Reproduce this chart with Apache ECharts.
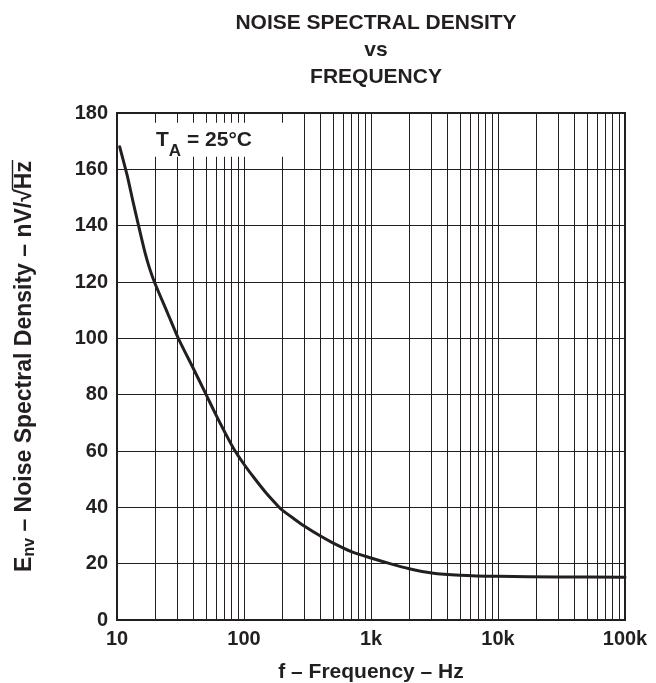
<!DOCTYPE html>
<html>
<head>
<meta charset="utf-8">
<script src="https://cdn.jsdelivr.net/npm/echarts@6/dist/echarts.min.js"></script>
<style>
html,body{margin:0;padding:0;background:#fff;}
#chart{width:656px;height:683px;}
</style>
</head>
<body>
<div id="chart"></div>
<script>
// Data
const freqHz = [10.5, 12, 13.3, 14.7, 16.6, 18, 19.7, 25, 30.4, 40, 50, 60, 70, 83, 100, 120, 150, 185, 200, 250, 300, 400, 500, 700, 1000, 1410, 2000, 3000, 5000, 10000, 30000, 100000];
const noiseNv = [168, 158, 149, 140.5, 130.5, 125, 120, 109, 100, 89.2, 80.3, 72.9, 67, 60.8, 55.3, 50.5, 45, 40.5, 39, 35.8, 33.3, 29.8, 27.4, 24.3, 22, 20, 18.2, 16.7, 15.9, 15.5, 15.3, 15.2];
const xTickLabels = {10: '10', 100: '100', 1000: '1k', 10000: '10k', 100000: '100k'};
const yTicks = [0, 20, 40, 60, 80, 100, 120, 140, 160, 180];
const titleLines = ['NOISE SPECTRAL DENSITY', 'vs', 'FREQUENCY'];
const xName = 'f – Frequency – Hz';
const yNameMain = 'E', yNameSub = 'nv', yNameRest = ' – Noise Spectral Density – nV/√', yNameUnit = 'Hz';
const minorGridFreqs = [];
[10, 100, 1000, 10000].forEach(function (d) {
  for (let m = 2; m <= 9; m++) minorGridFreqs.push(m * d);
});

const INK = '#231f20';
const FAMILY = '"Liberation Sans", Arial, sans-serif';

// text measuring for the rotated y label
const mctx = document.createElement('canvas').getContext('2d');
function tw(txt, size) { mctx.font = 'bold ' + size + 'px ' + FAMILY; return mctx.measureText(txt).width; }

const chart = echarts.init(document.getElementById('chart'));
const option = {
  backgroundColor: '#fff',
  animation: false,
  title: {
    text: titleLines.join('\n'),
    left: 371,
    top: 5,
    textAlign: 'center',
    textStyle: {fontFamily: FAMILY, fontWeight: 'bold', fontSize: 21, color: INK, lineHeight: 27}
  },
  grid: {
    left: 117, right: 31, top: 113, bottom: 63,
    outerBoundsMode: 'none',
    containLabel: false,
    show: true, borderColor: INK, borderWidth: 2
  },
  xAxis: {
    type: 'log', logBase: 10, min: 10, max: 100000,
    name: xName,
    nameLocation: 'middle', nameGap: 42,
    nameTextStyle: {fontFamily: FAMILY, fontWeight: 'bold', fontSize: 21, color: INK},
    axisLine: {show: true, lineStyle: {color: INK, width: 2}},
    axisTick: {show: false},
    axisLabel: {
      fontFamily: FAMILY, fontWeight: 'bold', fontSize: 20, color: INK, margin: 9,
      formatter: function (v) { return xTickLabels[Math.round(v)] || ''; }
    },
    splitLine: {show: true, lineStyle: {color: INK, width: 1}}
  },
  yAxis: {
    type: 'value', min: 0, max: 180, interval: 20,
    axisLine: {show: true, lineStyle: {color: INK, width: 2}},
    axisTick: {show: false},
    axisLabel: {
      fontFamily: FAMILY, fontWeight: 'bold', fontSize: 20, color: INK, margin: 9,
      formatter: function (v) { return yTicks.indexOf(v) >= 0 ? String(v) : ''; }
    },
    splitLine: {show: true, lineStyle: {color: INK, width: 1}}
  },
  series: [{
    type: 'line',
    data: freqHz.map(function (f, i) { return [f, noiseNv[i]]; }),
    showSymbol: false,
    smooth: 0.25,
    z: 10,
    lineStyle: {color: INK, width: 3, cap: 'round', join: 'round'},
    markLine: {
      silent: true,
      symbol: 'none',
      label: {show: false},
      lineStyle: {color: INK, width: 1, type: 'solid'},
      data: minorGridFreqs.map(function (f) { return {xAxis: f}; }),
      z: 1
    }
  }]
};
chart.setOption(option);

// y-axis title built as a rotated group (subscript + radical overline)
const YS = 23, YSUB = 16;
const wE = tw(yNameMain, YS), wSub = tw(yNameSub, YSUB), wRest = tw(yNameRest, YS), wUnit = tw(yNameUnit, YS);
const W = wE + wSub + wRest + wUnit;
const x0 = -W / 2;
const txtStyle = function (t, size) {
  return {text: t, font: 'bold ' + size + 'px ' + FAMILY, fill: INK, align: 'left', verticalAlign: 'middle'};
};
const yMid = chart.convertToPixel({gridIndex: 0}, [10, 90]);

// box behind the TA label (starts right of the curve's first point)
const p1 = chart.convertToPixel({gridIndex: 0}, [13, 176.5]);
const p2 = chart.convertToPixel({gridIndex: 0}, [250, 164.5]);

chart.setOption({
  graphic: [
    {
      type: 'group', x: 24.5, y: yMid[1], rotation: Math.PI / 2, z: 60,
      children: [
        {type: 'text', x: x0, y: 0, style: txtStyle(yNameMain, YS)},
        {type: 'text', x: x0 + wE, y: 5, style: txtStyle(yNameSub, YSUB)},
        {type: 'text', x: x0 + wE + wSub, y: 0, style: txtStyle(yNameRest, YS)},
        {type: 'text', x: x0 + wE + wSub + wRest, y: 0, style: txtStyle(yNameUnit, YS)},
        {type: 'line', shape: {x1: x0 + wE + wSub + wRest - 1, y1: -12, x2: x0 + W + 1, y2: -12},
         style: {stroke: INK, lineWidth: 1.4}}
      ]
    },
    {
      type: 'rect', z: 50,
      shape: {x: p1[0], y: p1[1], width: p2[0] - p1[0], height: p2[1] - p1[1]},
      style: {fill: '#fff'}
    },
    {
      type: 'text', z: 51,
      x: 156, y: 130,
      style: {
        rich: {
          m: {fontFamily: FAMILY, fontWeight: 'bold', fontSize: 21, fill: INK, lineHeight: 30, verticalAlign: 'top'},
          s: {fontFamily: FAMILY, fontWeight: 'bold', fontSize: 17, fill: INK, lineHeight: 21, verticalAlign: 'bottom'}
        },
        text: '{m|T}{s|A}{m| = 25°C}'
      }
    }
  ]
});
</script>
</body>
</html>
